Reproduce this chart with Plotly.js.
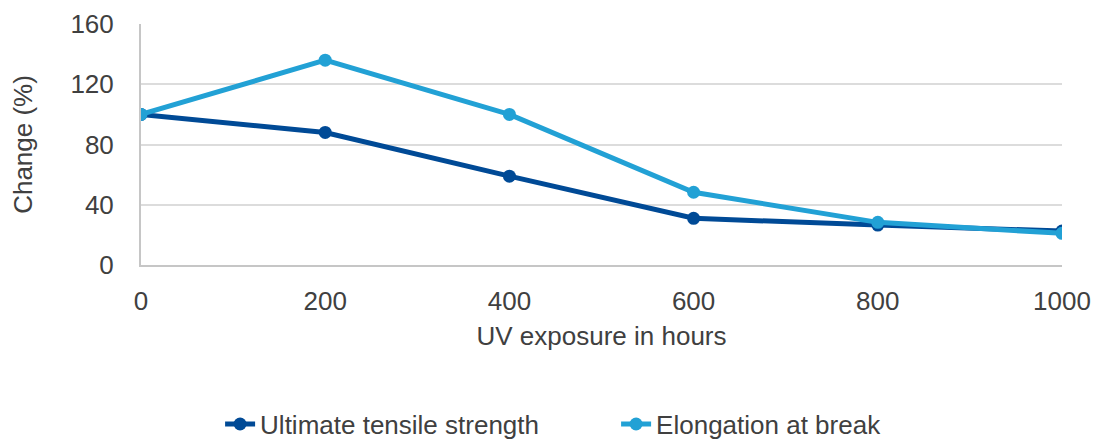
<!DOCTYPE html>
<html>
<head>
<meta charset="utf-8">
<script src="https://cdn.plot.ly/plotly-3.0.1.min.js"></script>
<style>html,body{margin:0;padding:0;background:#fff;}#chart{width:1095px;height:439px;}</style>
</head>
<body>
<div id="chart"></div>
<script>
const hours = [0, 200, 400, 600, 800, 1000];
const tensileStrength = [100, 88, 59, 31, 26.5, 22.5];
const elongationAtBreak = [100, 136, 100, 48.3, 28.3, 21];
const yTicks = [0, 40, 80, 120, 160];
const xTicks = [0, 200, 400, 600, 800, 1000];

const textColor = '#404040';
const fontFamily = 'Liberation Sans, Arial, Helvetica, sans-serif';
const fs = 26;

const traces = [
  {
    x: hours, y: tensileStrength, name: 'Ultimate tensile strength',
    type: 'scatter', mode: 'lines+markers',
    line: {color: '#004a96', width: 5},
    marker: {color: '#004a96', size: 13}
  },
  {
    x: hours, y: elongationAtBreak, name: 'Elongation at break',
    type: 'scatter', mode: 'lines+markers',
    line: {color: '#22a1d5', width: 5},
    marker: {color: '#22a1d5', size: 13}
  }
];

const layout = {
  width: 1095, height: 439,
  margin: {l: 141, r: 33, t: 24, b: 174},
  paper_bgcolor: '#ffffff', plot_bgcolor: '#ffffff',
  font: {family: fontFamily, size: fs, color: textColor},
  showlegend: true,
  legend: {
    orientation: 'h', xref: 'container', yref: 'container',
    x: 0.201, xanchor: 'left', y: 0.034, yanchor: 'middle',
    entrywidth: 351, entrywidthmode: 'pixels',
    font: {size: fs, color: textColor}, traceorder: 'normal'
  },
  xaxis: {
    range: [0, 1000], tickvals: xTicks, ticktext: xTicks.map(String),
    showgrid: false, zeroline: false, showline: true, linecolor: '#c6c6c6', linewidth: 2,
    ticks: '', ticklabelstandoff: 12, automargin: false,
    title: {text: 'UV exposure in hours', font: {size: fs, color: textColor}, standoff: 12}
  },
  yaxis: {
    range: [0, 160], tickvals: yTicks, ticktext: yTicks.map(String),
    showgrid: true, gridcolor: '#dcdcdc', gridwidth: 2,
    zeroline: false, showline: true, linecolor: '#c6c6c6', linewidth: 2,
    ticks: '', ticklabelstandoff: 20, automargin: false,
    title: {text: 'Change (%)', font: {size: fs, color: textColor}, standoff: 30}
  }
};

Plotly.newPlot('chart', traces, layout, {displayModeBar: false, staticPlot: true});
</script>
</body>
</html>
